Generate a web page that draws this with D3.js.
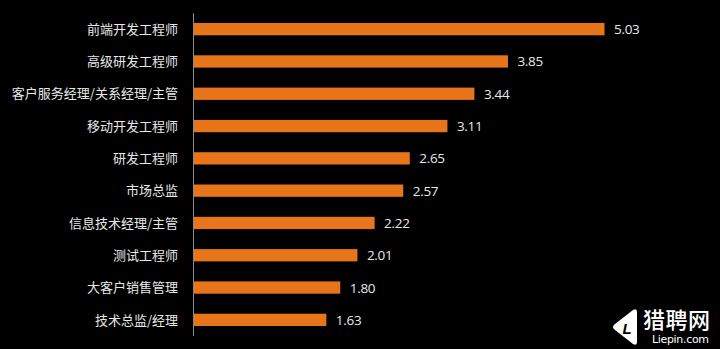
<!DOCTYPE html>
<html><head><meta charset="utf-8">
<script src="https://cdn.jsdelivr.net/npm/d3@7"></script>
<style>
html,body{margin:0;padding:0;background:#000;}
svg{display:block;}
</style></head>
<body>
<svg id="chart" width="720" height="349"></svg>
<script>
const categories = ["前端开发工程师","高级研发工程师","客户服务经理/关系经理/主管","移动开发工程师","研发工程师","市场总监","信息技术经理/主管","测试工程师","大客户销售管理","技术总监/经理"];
const values = [5.03,3.85,3.44,3.11,2.65,2.57,2.22,2.01,1.80,1.63];
const valueLabels = ["5.03","3.85","3.44","3.11","2.65","2.57","2.22","2.01","1.80","1.63"];

const svg = d3.select("#chart");
svg.append("rect").attr("width",720).attr("height",349).attr("fill","#000");
const font = "'Noto Sans CJK SC','Microsoft YaHei',sans-serif";
const x0 = 193;
const x = d3.scaleLinear().domain([0,5.03]).range([x0, 604.5]);
const y = d3.scaleBand().domain(categories).range([13, 336]).paddingInner(0.62).paddingOuter(0.31);

svg.selectAll("rect.bar").data(categories).join("rect")
  .attr("class","bar")
  .attr("x", x0+0.5)
  .attr("y", d=>y(d))
  .attr("width", (d,i)=>x(values[i])-x0-0.5)
  .attr("height", y.bandwidth())
  .attr("fill","#e8751a");

svg.append("line").attr("x1",x0+0.5).attr("x2",x0+0.5).attr("y1",13).attr("y2",336)
  .attr("stroke","#8a8a8a").attr("stroke-width",1);

svg.selectAll("text.cat").data(categories).join("text")
  .attr("class","cat")
  .attr("x",178).attr("y",d=>y(d)+y.bandwidth()/2)
  .attr("dy","0.36em").attr("text-anchor","end")
  .attr("fill","#e8e8e8").attr("font-family",font).attr("font-size",13)
  .text(d=>d);

svg.selectAll("text.val").data(categories).join("text")
  .attr("class","val")
  .attr("x",(d,i)=>x(values[i])+9.5).attr("y",d=>y(d)+y.bandwidth()/2)
  .attr("dy","0.37em")
  .attr("fill","#e8e8e8").attr("font-family","'Open Sans','Noto Sans',sans-serif").attr("font-size",13.5)
  .attr("letter-spacing",-0.3)
  .text((d,i)=>valueLabels[i]);

// logo
const g = svg.append("g");
g.append("path").attr("d","M637,312 L637,342 Q637,346 633,344 L615,330 Q611,327 615,324 L633,310 Q637,308 637,312 Z").attr("fill","#fff");
g.append("text").attr("x",627).attr("y",334).attr("text-anchor","middle").attr("font-family","Arial,sans-serif")
  .attr("font-style","italic").attr("font-weight","bold").attr("font-size",15).attr("fill","#000").text("L");
g.append("text").attr("x",643).attr("y",328).attr("fill","#fff").attr("font-family",font).attr("font-size",22).attr("font-weight",500).attr("textLength",67).text("猎聘网");
g.append("text").attr("x",652).attr("y",343).attr("fill","#fff").attr("font-family","'DejaVu Sans',sans-serif").attr("font-size",11).attr("textLength",57).text("Liepin.com");
</script>
</body></html>
